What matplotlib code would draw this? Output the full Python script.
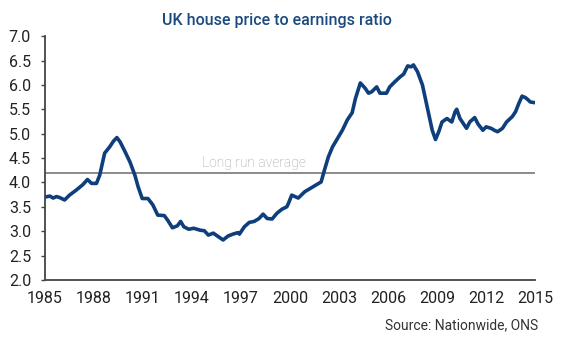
import matplotlib
import matplotlib.pyplot as plt

matplotlib.use('Agg')

# Nationwide house price to earnings ratio, read as (year, ratio) pairs
anos = [1985.0, 1985.3, 1985.5, 1985.7, 1985.9, 1986.2, 1986.5, 1986.9, 1987.3, 1987.6,
        1987.85, 1988.15, 1988.35, 1988.65, 1988.96, 1989.2, 1989.4, 1989.6, 1989.9, 1990.2,
        1990.5, 1990.7, 1990.95, 1991.3, 1991.6, 1991.9, 1992.3, 1992.5, 1992.8, 1993.1,
        1993.3, 1993.5, 1993.8, 1994.1, 1994.5, 1994.75, 1995.0, 1995.3, 1995.6, 1995.9,
        1996.2, 1996.5, 1996.8, 1996.9, 1997.2, 1997.5, 1997.8, 1998.1, 1998.35, 1998.6,
        1998.9, 1999.2, 1999.5, 1999.8, 1999.9, 2000.1, 2000.5, 2000.9, 2001.4, 2001.7,
        2001.9, 2002.1, 2002.35, 2002.6, 2002.9, 2003.2, 2003.5, 2003.8, 2004.0, 2004.3,
        2004.6, 2004.8, 2005.0, 2005.3, 2005.5, 2005.9, 2006.1, 2006.4, 2006.75, 2006.95,
        2007.2, 2007.4, 2007.55, 2007.8, 2008.1, 2008.3, 2008.5, 2008.7, 2008.9, 2009.1,
        2009.3, 2009.6, 2009.9, 2010.1, 2010.2, 2010.4, 2010.6, 2010.8, 2011.0, 2011.3,
        2011.5, 2011.8, 2012.0, 2012.3, 2012.5, 2012.7, 2013.0, 2013.25, 2013.6, 2013.8,
        2014.0, 2014.2, 2014.4, 2014.55, 2014.7, 2014.9]
racio = [3.70, 3.72, 3.68, 3.71, 3.69, 3.64, 3.74, 3.84, 3.95, 4.06,
         3.98, 3.98, 4.15, 4.60, 4.73, 4.85, 4.92, 4.83, 4.63, 4.42,
         4.15, 3.91, 3.67, 3.67, 3.54, 3.33, 3.32, 3.23, 3.07, 3.11,
         3.20, 3.09, 3.04, 3.06, 3.02, 3.01, 2.92, 2.96, 2.89, 2.82,
         2.90, 2.94, 2.97, 2.94, 3.09, 3.18, 3.20, 3.26, 3.35, 3.26,
         3.25, 3.37, 3.45, 3.50, 3.57, 3.74, 3.68, 3.81, 3.91, 3.97,
         4.01, 4.25, 4.53, 4.73, 4.90, 5.07, 5.28, 5.43, 5.72, 6.04,
         5.93, 5.83, 5.86, 5.96, 5.83, 5.83, 5.96, 6.06, 6.17, 6.22,
         6.39, 6.37, 6.41, 6.27, 6.00, 5.69, 5.38, 5.07, 4.88, 5.04,
         5.24, 5.31, 5.24, 5.45, 5.50, 5.31, 5.21, 5.11, 5.24, 5.33,
         5.20, 5.07, 5.14, 5.11, 5.07, 5.04, 5.11, 5.24, 5.35, 5.45,
         5.62, 5.77, 5.74, 5.70, 5.65, 5.64]
media_longo_prazo = 4.19

anos_ticks = [1985, 1988, 1991, 1994, 1997, 2000, 2003, 2006, 2009, 2012, 2015]
ticks_y = [2.0, 2.5, 3.0, 3.5, 4.0, 4.5, 5.0, 5.5, 6.0, 6.5, 7.0]

plt.rcParams['font.family'] = ['Roboto', 'DejaVu Sans']

fig = plt.figure(figsize=(5.66, 3.41), dpi=100)
ax = fig.add_axes([0.0795, 0.179, 0.866, 0.715])

ax.axhline(media_longo_prazo, color='#8a8a8a', linewidth=1.4, zorder=1)
ax.text(1994.6, media_longo_prazo + 0.06, 'Long run average', color='#a0a0a0',
        fontsize=10, ha='left', va='bottom', fontweight='light')
ax.plot(anos, racio, color='#0e3f7c', linewidth=2.6, solid_joinstyle='round', zorder=2)

ax.set_xlim(1985, 2015)
ax.set_ylim(2.0, 7.0)
ax.set_xticks(anos_ticks)
ax.set_yticks(ticks_y)
ax.set_yticklabels(['%.1f' % v for v in ticks_y])

for lado in ['top', 'right']:
    ax.spines[lado].set_visible(False)
for lado in ['left', 'bottom']:
    ax.spines[lado].set_color('#444444')
    ax.spines[lado].set_linewidth(1.3)

ax.tick_params(axis='x', length=0, pad=8, labelsize=11.5, labelcolor='#222222')
ax.tick_params(axis='y', length=3, width=1, color='#444444', pad=7,
               labelsize=11.5, labelcolor='#222222')

fig.text(0.49, 0.941, 'UK house price to earnings ratio', ha='center', va='center',
         fontsize=11.5, color='#1b4a80', fontweight='medium')
fig.text(0.951, 0.047, 'Source: Nationwide, ONS', ha='right', va='center',
         fontsize=10, color='#333333')

fig.savefig('out.png', dpi=100)
